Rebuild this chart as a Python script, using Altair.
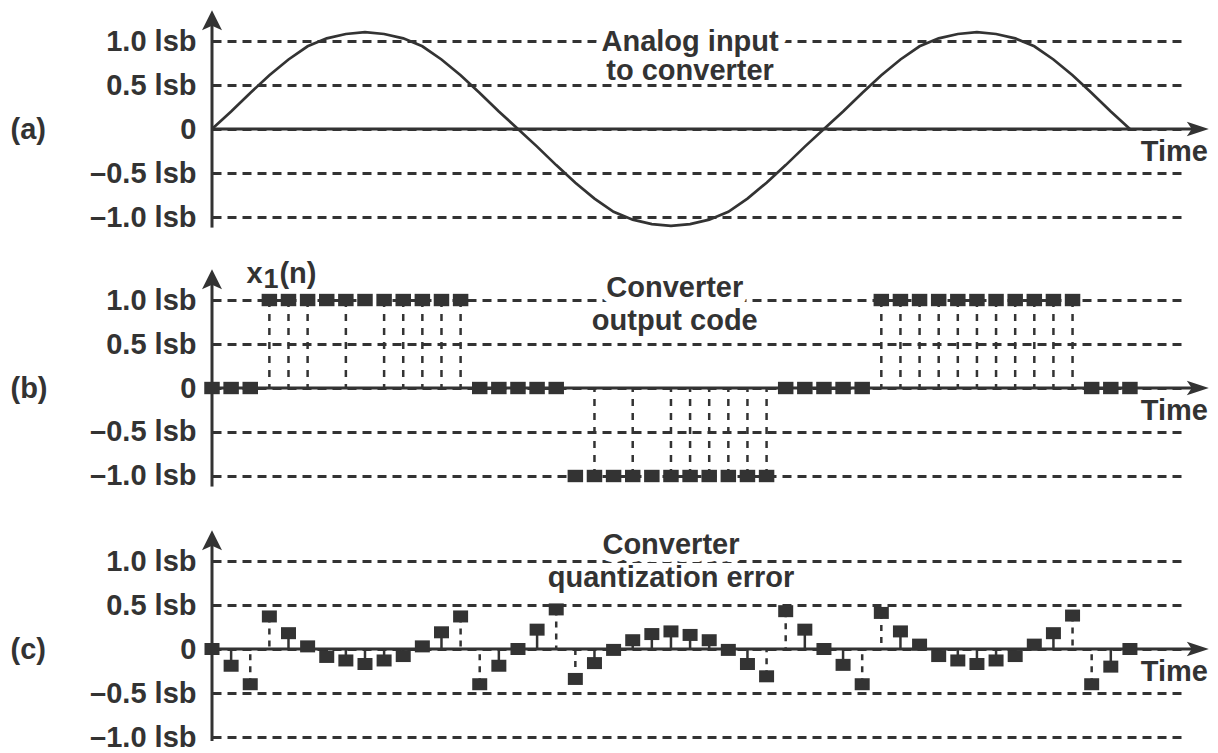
import altair as alt
import pandas as pd

FONT = "Liberation Sans"
INK = "#333333"
FS = 29

# ---------------- data ----------------
n = list(range(49))
analog_in = [0.00, 0.20, 0.41, 0.61, 0.79, 0.94, 1.03, 1.08, 1.10,
             1.08, 1.03, 0.94, 0.79, 0.61, 0.41, 0.20, 0.00,
             -0.20, -0.41, -0.61, -0.79, -0.94, -1.03, -1.08, -1.10,
             -1.08, -1.03, -0.94, -0.79, -0.61, -0.41, -0.20, 0.00,
             0.20, 0.41, 0.61, 0.79, 0.94, 1.03, 1.08, 1.10,
             1.08, 1.03, 0.94, 0.79, 0.61, 0.41, 0.20, 0.00]
code_out = [0, 0, 0, 1, 1, 1, 1, 1, 1, 1, 1, 1, 1, 1, 0, 0, 0, 0, 0,
            -1, -1, -1, -1, -1, -1, -1, -1, -1, -1, -1, 0, 0, 0, 0, 0,
            1, 1, 1, 1, 1, 1, 1, 1, 1, 1, 1, 0, 0, 0]
code_stem = [0, 0, 0, 1, 1, 1, 0, 1, 0, 1, 1, 1, 1, 1, 0, 0, 0, 0, 0,
             0, 1, 0, 1, 0, 1, 1, 1, 1, 1, 1, 0, 0, 0, 0, 0,
             1, 1, 1, 1, 1, 1, 1, 1, 1, 1, 1, 0, 0, 0]
quant_err = [0.00, -0.19, -0.40, 0.37, 0.18, 0.03, -0.09, -0.13, -0.17,
             -0.13, -0.08, 0.03, 0.19, 0.37, -0.40, -0.19, 0.00,
             0.22, 0.45, -0.34, -0.16, -0.01, 0.10, 0.17, 0.20,
             0.16, 0.10, -0.01, -0.17, -0.31, 0.43, 0.22, 0.00,
             -0.18, -0.40, 0.41, 0.20, 0.05, -0.08, -0.13, -0.17,
             -0.13, -0.08, 0.05, 0.18, 0.38, -0.40, -0.20, 0.00]

y_ticks = [1.0, 0.5, 0.0, -0.5, -1.0]
y_tick_labels = ["1.0 lsb", "0.5 lsb", "0", "\u20130.5 lsb", "\u20131.0 lsb"]
panel_tags = ["(a)", "(b)", "(c)"]
panel_notes = [["Analog input", "to converter"],
               ["Converter", "output code"],
               ["Converter", "quantization error"]]
note_x = [25.0, 24.2, 24.0]
note_y = [[0.99, 0.66], [1.14, 0.76], [1.18, 0.81]]
time_label = "Time"
seq_parts = ["x", "1", "(n)"]
seq_label_pos = [1.8, 1.30]

# ---------------- layout constants ----------------
x_domain = [0, 50.88]
axis_x_end = 51.3
arrow_x = 51.55
time_label_pos = [52.08, -0.26]
axis_y_extents = [[-1.12, 1.20], [-1.12, 1.20], [-1.045, 1.20]]
arrow_y = 1.236
ydoms = [[-1.545, 1.375], [-1.557, 1.398], [-1.045, 1.409]]
heights = [257, 260, 216]
tag_y_px = [121, 123, 124]
WIDTH = 973

SQ = "M-1,-0.8L1,-0.8L1,0.8L-1,0.8Z"
ARROW_R = "M1,0L-1,-0.65L-0.55,0L-1,0.65Z"
ARROW_U = "M0,-1L1,1L0,0.55L-1,1Z"

df = pd.DataFrame({"n": n, "analog": analog_in, "code": code_out,
                   "stem": code_stem, "err": quant_err})

label_expr = " : ".join(
    f"datum.value == {v} ? '{t}'" for v, t in zip(y_ticks, y_tick_labels)
) + " : ''"

xs = alt.Scale(domain=x_domain, nice=False, zero=False)


def X(field):
    return alt.X(field, scale=xs, axis=None)


def panel(i, extra):
    ys = alt.Scale(domain=ydoms[i], nice=False, zero=False)
    yaxis = alt.Axis(
        values=y_ticks, labelExpr=label_expr, grid=True, gridDash=[9, 6],
        gridColor=INK, gridWidth=2.8, gridOpacity=1, domain=False, ticks=False,
        labelPadding=16, labelFont=FONT, labelFontSize=FS, labelFontWeight="bold",
        labelColor=INK, labelOverlap=False, title=panel_tags[i], titleAngle=0,
        titleAlign="left", titleBaseline="middle", titleX=-202, titleY=tag_y_px[i],
        titleFont=FONT, titleFontSize=FS, titleFontWeight="bold", titleColor=INK)

    def Y(field):
        return alt.Y(field, scale=ys, axis=yaxis)

    frame = pd.DataFrame({"x": [0], "x2": [axis_x_end], "y": [0],
                          "ylo": [axis_y_extents[i][0]], "yhi": [axis_y_extents[i][1]],
                          "ax": [arrow_x], "ay": [arrow_y],
                          "tx": [time_label_pos[0]], "ty": [time_label_pos[1]],
                          "t": [time_label]})
    base = alt.Chart(frame)
    taxis = base.mark_rule(color=INK, strokeWidth=3).encode(
        x=X("x:Q"), x2="x2:Q", y=Y("y:Q"))
    vaxis = base.mark_rule(color=INK, strokeWidth=3).encode(
        x=X("x:Q"), y=Y("ylo:Q"), y2="yhi:Q")
    arr_r = base.mark_point(shape=ARROW_R, filled=True, size=484, color=INK,
                            opacity=1, strokeWidth=0).encode(x=X("ax:Q"), y=Y("y:Q"))
    arr_u = base.mark_point(shape=ARROW_U, filled=True, size=400, color=INK,
                            opacity=1, strokeWidth=0).encode(x=X("x:Q"), y=Y("ay:Q"))
    tlabel = base.mark_text(align="right", baseline="middle", font=FONT,
                            fontSize=FS, fontWeight="bold", color=INK).encode(
        x=X("tx:Q"), y=Y("ty:Q"), text="t:N")

    notes = pd.DataFrame({"x": [note_x[i], note_x[i]], "y": note_y[i],
                          "t": panel_notes[i], "first": [1, 0]})
    halo = alt.Chart(notes).transform_filter("datum.first == 1").mark_text(
        align="center", baseline="middle", font=FONT, fontSize=FS,
        fontWeight="bold", color="white", stroke="white", strokeWidth=16,
        strokeJoin="round").encode(x=X("x:Q"), y=Y("y:Q"), text="t:N")
    ntext = alt.Chart(notes).mark_text(
        align="center", baseline="middle", font=FONT, fontSize=FS,
        fontWeight="bold", color=INK).encode(x=X("x:Q"), y=Y("y:Q"), text="t:N")

    layers = [taxis, vaxis] + extra(Y) + [arr_r, arr_u, tlabel, halo, ntext]
    return alt.layer(*layers).properties(width=WIDTH, height=heights[i])


def panel_a(Y):
    curve = alt.Chart(df).mark_line(color=INK, strokeWidth=2.7).encode(
        x=X("n:Q"), y=Y("analog:Q"))
    return [curve]


def panel_b(Y):
    stems = alt.Chart(df).transform_filter("datum.stem == 1").transform_calculate(
        base="0").mark_rule(color=INK, strokeWidth=2.5, strokeDash=[7, 7]).encode(
        x=X("n:Q"), y=Y("code:Q"), y2="base:Q")
    squares = alt.Chart(df).mark_point(shape=SQ, filled=True, size=240, color=INK,
                                       opacity=1, strokeWidth=0).encode(
        x=X("n:Q"), y=Y("code:Q"))
    seq = pd.DataFrame({"x": [seq_label_pos[0]], "y": [seq_label_pos[1]],
                        "a": [seq_parts[0]], "b": [seq_parts[1]], "c": [seq_parts[2]]})
    common = dict(align="left", baseline="middle", font=FONT, fontWeight="bold", color=INK)
    s1 = alt.Chart(seq).mark_text(fontSize=FS, **common).encode(
        x=X("x:Q"), y=Y("y:Q"), text="a:N")
    s2 = alt.Chart(seq).mark_text(fontSize=FS - 2, dx=17, dy=6, **common).encode(
        x=X("x:Q"), y=Y("y:Q"), text="b:N")
    s3 = alt.Chart(seq).mark_text(fontSize=FS, dx=33, **common).encode(
        x=X("x:Q"), y=Y("y:Q"), text="c:N")
    return [stems, squares, s1, s2, s3]


def panel_c(Y):
    stems = alt.Chart(df).transform_filter("abs(datum.err) >= 0.05").transform_calculate(
        base="0").mark_rule(color=INK, strokeWidth=2.5).encode(
        x=X("n:Q"), y=Y("err:Q"), y2="base:Q",
        strokeDash=alt.condition("abs(datum.err) < 0.25", alt.value([100, 0]),
                                 alt.value([6, 6])))
    squares = alt.Chart(df).mark_point(shape=SQ, filled=True, size=225, color=INK,
                                       opacity=1, strokeWidth=0).encode(
        x=X("n:Q"), y=Y("err:Q"))
    return [stems, squares]


chart = alt.vconcat(
    panel(0, panel_a), panel(1, panel_b), panel(2, panel_c),
    spacing=0, bounds="flush"
).properties(
    padding={"left": 2, "top": 0, "right": 0, "bottom": 0},
    background="white"
).configure_view(stroke=None)

chart.save("out.html", embed_options={"renderer": "svg", "actions": False})
